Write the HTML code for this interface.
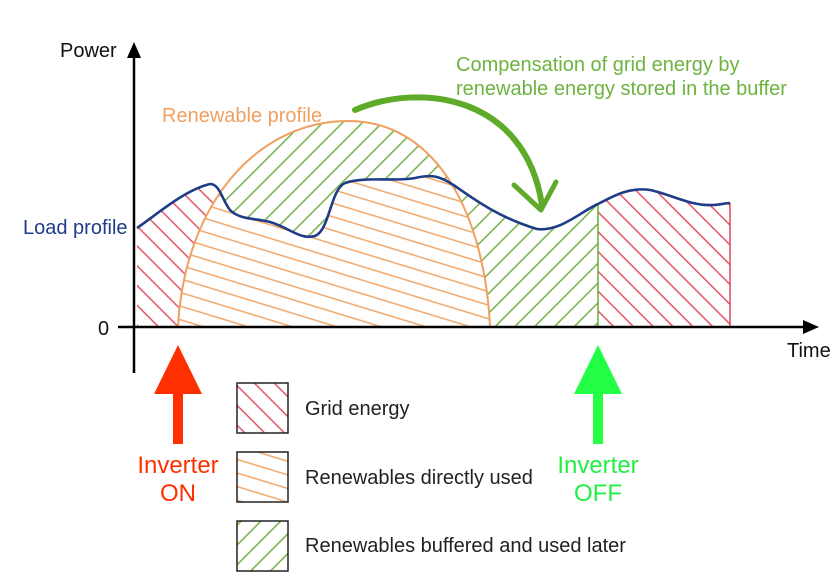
<!DOCTYPE html>
<html><head><meta charset="utf-8"><style>
html,body{margin:0;padding:0;background:#fff;}
svg{display:block;font-family:"Liberation Sans",sans-serif;}
</style></head><body>
<svg width="838" height="586" viewBox="0 0 838 586" xmlns="http://www.w3.org/2000/svg">
<defs>
<pattern id="pr" patternUnits="userSpaceOnUse" width="14" height="14" patternTransform="rotate(45)"><line x1="0" y1="7" x2="14" y2="7" stroke="#e2455a" stroke-width="1.4"/></pattern>
<pattern id="pg" patternUnits="userSpaceOnUse" width="14" height="14" patternTransform="rotate(-45)"><line x1="0" y1="7" x2="14" y2="7" stroke="#6aaa3a" stroke-width="1.4"/></pattern>
<pattern id="po" patternUnits="userSpaceOnUse" width="14" height="13" patternTransform="rotate(17)"><line x1="0" y1="6" x2="14" y2="6" stroke="#f0a060" stroke-width="1.4"/></pattern>
<path id="L" d="M137,228 C160,212 185,190 210,184 C220,184 222,200 230,210 C240,220 255,218 270,222 C290,228 300,240 315,236 C330,230 330,190 345,183 C365,176 395,182 415,178 C432,174 440,176 455,186 C475,200 500,218 537,229 C560,232 580,212 598,204 C615,195 630,187 650,190 C670,194 690,206 712,205 C720,205 725,203 730,203 L730,327 L137,327 Z"/>
<path id="R" d="M178,327 C185,200 260,121 348,121 C440,121 485,220 490,327 Z"/>
<clipPath id="cL"><use href="#L"/></clipPath>
<clipPath id="cR"><use href="#R"/></clipPath>
<clipPath id="cA"><rect x="130" y="0" width="468" height="340"/></clipPath>
<clipPath id="cB"><rect x="130" y="0" width="130" height="340"/></clipPath>
<clipPath id="cC"><rect x="598" y="0" width="140" height="340"/></clipPath>
</defs>
<g clip-path="url(#cA)"><use href="#L" fill="url(#pg)"/></g>
<g clip-path="url(#cB)"><use href="#L" fill="#fff"/><use href="#L" fill="url(#pr)"/></g>
<g clip-path="url(#cC)"><use href="#L" fill="url(#pr)"/></g>
<use href="#R" fill="#fff"/><use href="#R" fill="url(#pg)"/>
<g clip-path="url(#cR)"><use href="#L" fill="#fff"/><use href="#L" fill="url(#po)"/></g>
<path d="M178,327 C185,200 260,121 348,121 C440,121 485,220 490,327" fill="none" stroke="#f0a060" stroke-width="2"/>
<line x1="598" y1="204" x2="598" y2="327" stroke="#6aaa3a" stroke-width="1.5"/>
<line x1="730" y1="203" x2="730" y2="327" stroke="#e2455a" stroke-width="1.5"/>
<path d="M137,228 C160,212 185,190 210,184 C220,184 222,200 230,210 C240,220 255,218 270,222 C290,228 300,240 315,236 C330,230 330,190 345,183 C365,176 395,182 415,178 C432,174 440,176 455,186 C475,200 500,218 537,229 C560,232 580,212 598,204 C615,195 630,187 650,190 C670,194 690,206 712,205 C720,205 725,203 730,203" fill="none" stroke="#1f3c88" stroke-width="2.6"/>
<line x1="134" y1="55" x2="134" y2="373" stroke="#000" stroke-width="2.5"/>
<polygon points="134,42 127,58 141,58" fill="#000"/>
<line x1="118" y1="327" x2="805" y2="327" stroke="#000" stroke-width="2.5"/>
<polygon points="819,327 803,320 803,334" fill="#000"/>
<text x="60" y="57" font-size="20" fill="#111">Power</text>
<text x="98" y="335" font-size="20" fill="#111">0</text>
<text x="787" y="357" font-size="20" fill="#111">Time</text>
<text x="23" y="234" font-size="20" fill="#1f3c88">Load profile</text>
<text x="162" y="122" font-size="20" fill="#f0a060">Renewable profile</text>
<text x="456" y="71" font-size="20" fill="#6db33f">Compensation of grid energy by</text>
<text x="456" y="95" font-size="20" fill="#6db33f">renewable energy stored in the buffer</text>
<path d="M355,110 C420,82 525,95 542,205" fill="none" stroke="#5eab2a" stroke-width="6" stroke-linecap="round"/>
<path d="M514,185 L541,210 L556,182" fill="none" stroke="#5eab2a" stroke-width="5" stroke-linecap="round" stroke-linejoin="round"/>
<polygon points="178,345 202,394 183,394 183,444 173,444 173,394 154,394" fill="#ff3000"/>
<polygon points="598,345 622,394 603,394 603,444 593,444 593,394 574,394" fill="#22ff44"/>
<text x="178" y="473" font-size="24" fill="#ff3000" text-anchor="middle">Inverter</text>
<text x="178" y="501" font-size="24" fill="#ff3000" text-anchor="middle">ON</text>
<text x="598" y="473" font-size="24" fill="#22ee44" text-anchor="middle">Inverter</text>
<text x="598" y="501" font-size="24" fill="#22ee44" text-anchor="middle">OFF</text>
<rect x="237" y="383" width="51" height="50" fill="url(#pr)" stroke="#222" stroke-width="1.5"/>
<rect x="237" y="452" width="51" height="50" fill="url(#po)" stroke="#222" stroke-width="1.5"/>
<rect x="237" y="521" width="51" height="50" fill="url(#pg)" stroke="#222" stroke-width="1.5"/>
<text x="305" y="415" font-size="20" fill="#222">Grid energy</text>
<text x="305" y="484" font-size="20" fill="#222">Renewables directly used</text>
<text x="305" y="552" font-size="20" fill="#222">Renewables buffered and used later</text>
</svg>
</body></html>
